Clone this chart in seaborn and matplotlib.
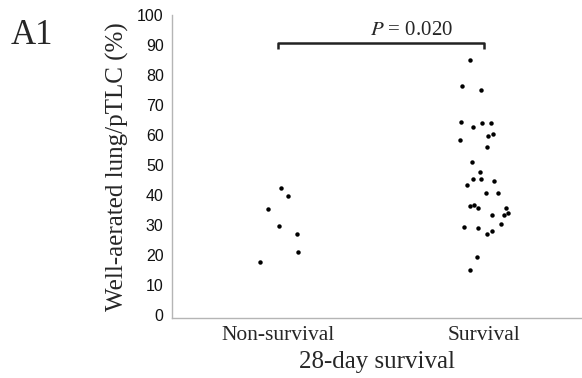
import matplotlib
matplotlib.use("Agg")
import matplotlib.pyplot as plt
import seaborn as sns
import numpy as np
import pandas as pd

# values (% well-aerated lung / pTLC)
groups = ["Non-survival", "Survival"]
non_survival = [42.3, 39.7, 35.3, 29.7, 27.0, 21.0, 17.7]
survival = [85.1, 76.3, 74.9, 64.2, 63.9, 63.9, 62.6, 60.2, 59.8, 58.4,
            56.1, 51.1, 47.7, 45.3, 44.8, 45.3, 43.4, 40.7, 40.6, 36.6,
            36.4, 35.7, 35.8, 33.9, 33.3, 33.4, 30.3, 29.1, 29.2, 28.0,
            27.1, 19.3, 14.9]
yticks = list(range(0, 101, 10))
p_label = "$P$ = 0.020"

df = pd.DataFrame({
    "group": [groups[0]] * len(non_survival) + [groups[1]] * len(survival),
    "value": non_survival + survival,
})

sns.set_style("white")
plt.rcParams["mathtext.fontset"] = "stix"

fig = plt.figure(figsize=(5.82, 3.78), dpi=100)
ax = fig.add_axes([0.2955, 0.1587, 0.7045, 0.8016])

np.random.seed(3)
sns.stripplot(data=df, x="group", y="value", order=groups, color="black",
              size=3.2, jitter=0.12, linewidth=0, ax=ax)

ax.set_xlim(-0.515, 1.476)
ax.set_ylim(-1, 100)
ax.set_yticks(yticks)

# significance bracket
bracket_y = 90.6
ax.plot([0, 0, 1, 1], [bracket_y - 2, bracket_y, bracket_y, bracket_y - 2],
        color="#222222", lw=1.8, solid_capstyle="butt")
ax.text(0.65, bracket_y + 1.2, p_label, ha="center", va="bottom",
        fontsize=15, family="Liberation Serif")

for side in ["top", "right"]:
    ax.spines[side].set_visible(False)
for side in ["left", "bottom"]:
    ax.spines[side].set_color("#b5b5b5")
    ax.spines[side].set_linewidth(1.0)

ax.tick_params(axis="y", length=4, width=0.8, color="#999999", pad=2,
               labelsize=11.5, labelcolor="#111111")
for lab in ax.get_yticklabels():
    lab.set_family("Liberation Sans")
ax.tick_params(axis="x", length=0, pad=6, labelsize=15.5)
for lab in ax.get_xticklabels():
    lab.set_family("Liberation Serif")

ax.set_xlabel("28-day survival", fontsize=18, family="Liberation Serif", labelpad=4)
ax.set_ylabel("Well-aerated lung/pTLC (%)", fontsize=18,
              family="Liberation Serif", labelpad=6)

fig.text(0.018, 0.905, "A1", fontsize=25, family="Liberation Serif", va="center")

fig.savefig("out.png", dpi=100)
